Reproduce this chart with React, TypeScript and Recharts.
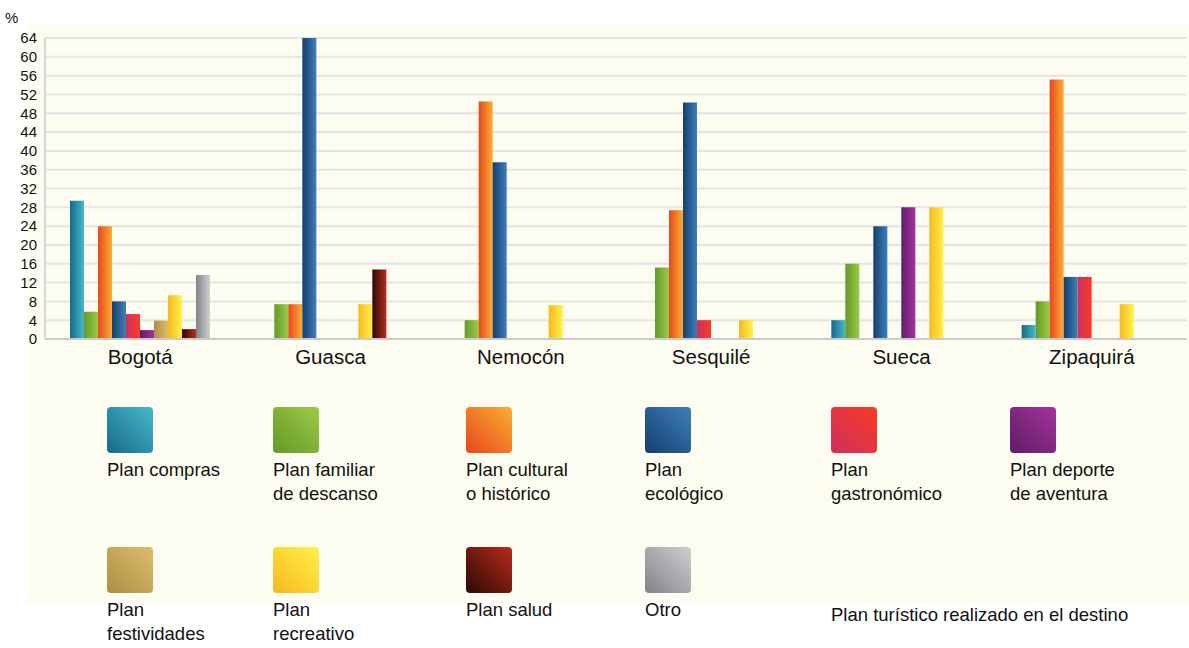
import React from 'react';
import { BarChart, Bar, XAxis, YAxis, CartesianGrid } from 'recharts';

const cities = ['Bogotá', 'Guasca', 'Nemocón', 'Sesquilé', 'Sueca', 'Zipaquirá'];

const compras = [29.4, 0, 0, 0, 4, 3];
const familiar = [5.8, 7.4, 4, 15.2, 16, 8];
const cultural = [24, 7.4, 50.5, 27.4, 0, 55.2];
const ecologico = [8, 64, 37.6, 50.3, 24, 13.2];
const gastronomico = [5.3, 0, 0, 4, 0, 13.2];
const deporte = [1.9, 0, 0, 0, 28, 0];
const festividades = [3.9, 0, 0, 0, 0, 0];
const recreativo = [9.3, 7.4, 7.2, 4, 28, 7.4];
const salud = [2.1, 14.8, 0, 0, 0, 0];
const otro = [13.6, 0, 0, 0, 0, 0];

const yTicks = [0, 4, 8, 12, 16, 20, 24, 28, 32, 36, 40, 44, 48, 52, 56, 60, 64];

const series = [
  { key: 'compras', values: compras, label: ['Plan compras'], from: '#17698a', to: '#45b9c9' },
  { key: 'familiar', values: familiar, label: ['Plan familiar', 'de descanso'], from: '#64982a', to: '#9dcb45' },
  { key: 'cultural', values: cultural, label: ['Plan cultural', 'o histórico'], from: '#e6481c', to: '#fbad32' },
  { key: 'ecologico', values: ecologico, label: ['Plan', 'ecológico'], from: '#163f6c', to: '#3d7fbc' },
  { key: 'gastronomico', values: gastronomico, label: ['Plan', 'gastronómico'], from: '#cf2f5c', to: '#fa3a26' },
  { key: 'deporte', values: deporte, label: ['Plan deporte', 'de aventura'], from: '#5e1c66', to: '#a6339c' },
  { key: 'festividades', values: festividades, label: ['Plan', 'festividades'], from: '#ae8e44', to: '#dcbc6c' },
  { key: 'recreativo', values: recreativo, label: ['Plan', 'recreativo'], from: '#f7b81e', to: '#fff248' },
  { key: 'salud', values: salud, label: ['Plan salud'], from: '#2c0806', to: '#b62c1a' },
  { key: 'otro', values: otro, label: ['Otro'], from: '#828388', to: '#cdcfd1' },
];

const data = cities.map((city, i) => {
  const row: Record<string, string | number> = { city };
  series.forEach((s) => {
    row[s.key] = s.values[i];
  });
  return row;
});

const font = '"Liberation Sans", Arial, sans-serif';
const legendCols = [107, 273, 466, 645, 831, 1010];

export default function App() {
  return (
    <div style={{ position: 'relative', width: 1189, height: 648, background: '#fff', fontFamily: font, color: '#111' }}>
      <style>{'body{margin:0}'}</style>
      <div style={{ position: 'absolute', left: 27, top: 25, width: 1162, height: 578, background: '#fdfcf1' }} />
      <div style={{ position: 'absolute', left: 5, top: 9, fontSize: 15 }}>%</div>
      <div style={{ position: 'absolute', left: 0, top: 0 }}>
        <BarChart
          width={1189}
          height={380}
          data={data}
          margin={{ top: 38, right: 2, bottom: 0, left: 0 }}
          barSize={14}
          barGap={0}
        >
          <defs>
            {series.map((s) => (
              <linearGradient key={s.key} id={`g-${s.key}`} x1="0" y1="0" x2="1" y2="0">
                <stop offset="0%" stopColor={s.from} />
                <stop offset="100%" stopColor={s.to} />
              </linearGradient>
            ))}
          </defs>
          <CartesianGrid vertical={false} stroke="#e3e3e8" strokeWidth={2} />
          <XAxis
            dataKey="city"
            tickLine={false}
            axisLine={{ stroke: '#c9c9ce', strokeWidth: 2 }}
            tick={{ fill: '#111', fontSize: 20.5, fontFamily: font }}
            tickMargin={4}
            height={41}
            interval={0}
          />
          <YAxis
            domain={[0, 64]}
            ticks={yTicks}
            interval={0}
            tickLine={false}
            axisLine={{ stroke: '#d6d6db', strokeWidth: 2 }}
            tick={{ fill: '#111', fontSize: 15, fontFamily: font }}
            width={45}
          />
          {series.map((s) => (
            <Bar key={s.key} dataKey={s.key} fill={`url(#g-${s.key})`} isAnimationActive={false} />
          ))}
        </BarChart>
      </div>
      {series.map((s, i) => {
        const col = i % 6;
        const row = Math.floor(i / 6);
        const top = row === 0 ? 407 : 547;
        return (
          <div key={s.key} style={{ position: 'absolute', left: legendCols[col], top }}>
            <div
              style={{
                width: 46,
                height: 46,
                borderRadius: 4,
                background: `linear-gradient(45deg, ${s.from}, ${s.to})`,
                filter: 'blur(0.6px)',
              }}
            />
            <div style={{ marginTop: 5, fontSize: 18.5, lineHeight: '24px', whiteSpace: 'nowrap' }}>
              {s.label.map((t) => (
                <div key={t}>{t}</div>
              ))}
            </div>
          </div>
        );
      })}
      <div style={{ position: 'absolute', left: 831, top: 603, fontSize: 18.5, lineHeight: '24px', whiteSpace: 'nowrap' }}>
        Plan turístico realizado en el destino
      </div>
    </div>
  );
}
